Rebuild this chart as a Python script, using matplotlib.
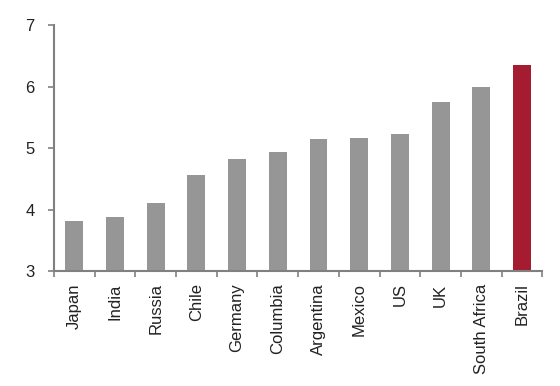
import matplotlib
matplotlib.use("Agg")
import matplotlib.pyplot as plt
import numpy as np

plt.rcParams["font.family"] = ["Liberation Sans", "DejaVu Sans"]

# data
countries = ["Japan", "India", "Russia", "Chile", "Germany", "Columbia",
             "Argentina", "Mexico", "US", "UK", "South Africa", "Brazil"]
values = [3.82, 3.87, 4.11, 4.56, 4.82, 4.93, 5.15, 5.16, 5.23, 5.75, 6.0,
          6.35]
highlight = "Brazil"

gray = "#969696"
red = "#A51C30"
axis_col = "#808080"

fig = plt.figure(figsize=(5.6, 3.86), dpi=100)
ax = fig.add_axes([0.0964, 0.298, 0.872, 0.637])

x = np.arange(len(countries))
colors = [red if c == highlight else gray for c in countries]
ax.bar(x, np.array(values) - 3, bottom=3, width=0.44, color=colors)

ax.set_ylim(3, 7)
ax.set_xlim(-0.5, len(countries) - 0.5)
ax.set_yticks([3, 4, 5, 6, 7])

# x ticks sit at category boundaries, labels at the bar centres
ax.set_xticks(np.arange(-0.5, len(countries)), minor=False)
ax.set_xticklabels([])
ax.set_xticks(x, minor=True)
ax.set_xticklabels(countries, minor=True, rotation=90, fontsize=12,
                   color="#222222")
ax.tick_params(axis="x", which="minor", length=0, pad=9)
ax.tick_params(axis="x", which="major", length=4, width=1.2, color=axis_col)
ax.tick_params(axis="y", length=4, width=1.2, color=axis_col, pad=10,
               labelsize=12, labelcolor="#222222")

for side in ["top", "right"]:
    ax.spines[side].set_visible(False)
for side in ["left", "bottom"]:
    ax.spines[side].set_color(axis_col)
    ax.spines[side].set_linewidth(1.5)

fig.savefig("out.png", dpi=100)
